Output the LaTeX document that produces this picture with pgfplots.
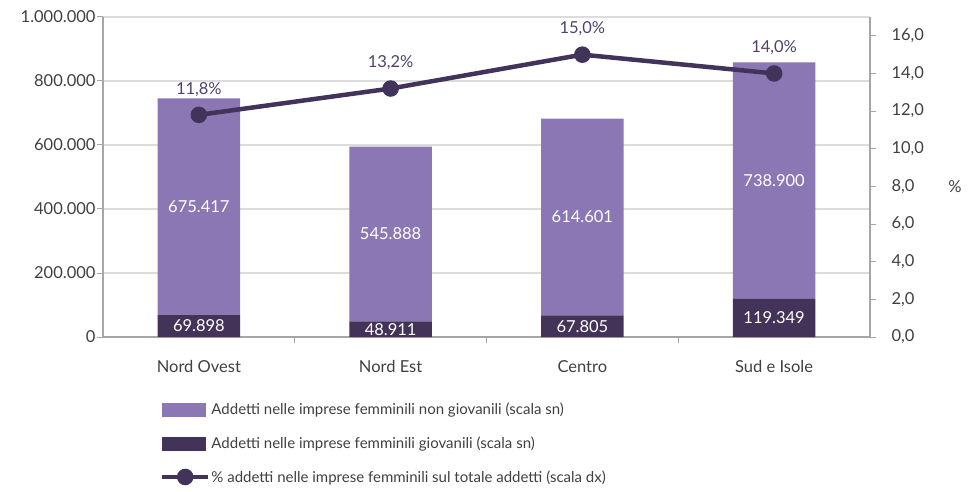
\documentclass[border=0pt]{standalone}
\usepackage{fontspec}
\setmainfont{Lato}
\usepackage{pgfplots}
\usepackage{pgfplotstable}
\pgfplotsset{compat=1.18}
\usetikzlibrary{calc}

\definecolor{lightp}{HTML}{8A77B4}
\definecolor{darkp}{HTML}{433358}
\definecolor{linep}{HTML}{42335A}
\definecolor{lblp}{HTML}{4E4268}
\definecolor{txtc}{HTML}{404040}
\definecolor{gridc}{HTML}{DCDCDC}
\definecolor{axc}{HTML}{A6A6A6}

% addetti per ripartizione
\pgfplotstableread{
x giov nongiov
0 69898 675417
1 48911 545888
2 67805 614601
3 119349 738900
}\barsdata

% quota percentuale (scala dx)
\pgfplotstableread{
x pct lab
0 11.8 11,8
1 13.2 13,2
2 15.0 15,0
3 14.0 14,0
}\pctdata

\pgfplotsset{
  basestyle/.style={
    scale only axis, width=767bp, height=320bp,
    xmin=-0.5, xmax=3.5,
    tick align=outside,
    every tick/.style={axc, line width=1bp},
    major tick length=6bp, minor tick length=6bp,
    axis line style={axc, line width=1.2bp},
    tick label style={font=\fontsize{16.5bp}{19bp}\selectfont, color=txtc},
  },
}
\tikzset{barlab/.style={font=\fontsize{16.5bp}{19bp}\selectfont, color=white}}

\begin{document}
\begin{tikzpicture}
\begin{axis}[
    basestyle,
    ymin=0, ymax=1000000,
    axis y line*=left, axis x line*=bottom,
    ybar stacked, bar width=0.43,
    xtick={0,1,2,3},
    xticklabels={Nord Ovest, Nord Est, Centro, Sud e Isole},
    major x tick style={draw=none},
    minor xtick={0.5,1.5,2.5},
    xticklabel style={yshift=-14bp},
    ytick={0,200000,400000,600000,800000,1000000},
    yticklabels={0,200.000,400.000,600.000,800.000,1.000.000},
    yticklabel style={xshift=2bp},
    scaled y ticks=false,
    ymajorgrids, grid style={gridc, line width=1.1bp},
]
\addplot[fill=darkp, draw=none] table[x=x, y=giov] {\barsdata};
\addplot[fill=lightp, draw=none] table[x=x, y=nongiov] {\barsdata};
\coordinate (sw) at (rel axis cs:0,0);
\coordinate (ne) at (rel axis cs:1,1);
\end{axis}

% etichette delle barre, sopra le barre
\begin{axis}[basestyle, ymin=0, ymax=1000000, hide axis, clip=false]
\node[barlab] at (axis cs:0,34949) {69.898};
\node[barlab] at (axis cs:1,24456) {48.911};
\node[barlab] at (axis cs:2,33903) {67.805};
\node[barlab] at (axis cs:3,59675) {119.349};
\node[barlab] at (axis cs:0,407607) {675.417};
\node[barlab] at (axis cs:1,321855) {545.888};
\node[barlab] at (axis cs:2,375106) {614.601};
\node[barlab] at (axis cs:3,488800) {738.900};
\node[font=\fontsize{16.5bp}{19bp}\selectfont, color=txtc] at (rel axis cs:1,0.5) [xshift=85bp, yshift=-10bp] {\%};
\end{axis}

\begin{axis}[
    basestyle,
    ymin=0, ymax=17,
    axis y line*=right, axis x line=none,
    ytick={0,2,4,6,8,10,12,14,16},
    yticklabels={{0,0},{2,0},{4,0},{6,0},{8,0},{10,0},{12,0},{14,0},{16,0}},
    yticklabel style={xshift=12bp},
    legend style={at={(0.074,-0.2)}, anchor=north west, draw=none, fill=none,
        cells={anchor=west}, row sep=16.5bp, inner sep=0pt,
        nodes={inner xsep=1bp},
        font=\fontsize{15bp}{17bp}\selectfont, text=txtc},
]
\addlegendimage{legend image code/.code={\fill[lightp] (0bp,-6.5bp) rectangle (43bp,6.5bp);}}
\addlegendentry{Addetti nelle imprese femminili non giovanili (scala sn)}
\addlegendimage{legend image code/.code={\fill[darkp] (0bp,-6.5bp) rectangle (43bp,6.5bp);}}
\addlegendentry{Addetti nelle imprese femminili giovanili (scala sn)}
\addplot[linep, line width=4.5bp, mark=*, mark size=6bp, mark options={fill=linep},
    point meta=explicit symbolic,
    nodes near coords={\pgfplotspointmeta\%},
    every node near coord/.append style={font=\fontsize{16.5bp}{19bp}\selectfont, color=lblp, anchor=south, yshift=13bp},
    legend image code/.code={\draw[linep, line width=4.5bp] (0bp,0bp) -- (46bp,0bp);
    \fill[linep] (23bp,0bp) circle (6bp);},
    ] table[x=x, y=pct, meta=lab] {\pctdata};
\addlegendentry{\% addetti nelle imprese femminili sul totale addetti (scala dx)}
\end{axis}

\pgfresetboundingbox
\path ($(sw)+(-103bp,-155bp)$) rectangle ($(ne)+(100bp,17bp)$);
\end{tikzpicture}
\end{document}
